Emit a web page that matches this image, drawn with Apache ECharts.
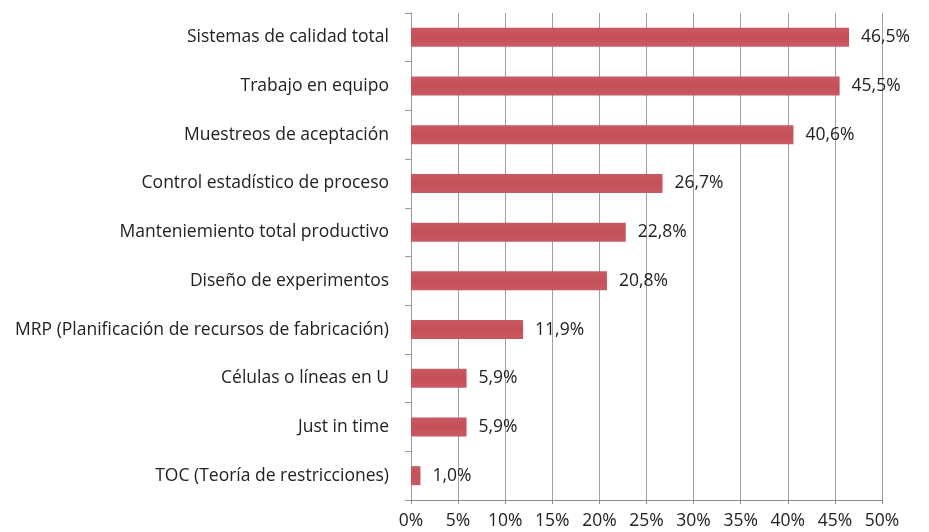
<!DOCTYPE html>
<html><head><meta charset="utf-8">
<script src="https://cdn.jsdelivr.net/npm/echarts@6/dist/echarts.min.js"></script>
<style>html,body{margin:0;padding:0;background:#fff}#c{width:929px;height:532px}</style>
</head><body><div id="c"></div>
<script>
const categories = [
  "Sistemas de calidad total",
  "Trabajo en equipo",
  "Muestreos de aceptación",
  "Control estadístico de proceso",
  "Manteniemiento total productivo",
  "Diseño de experimentos",
  "MRP (Planificación de recursos de fabricación)",
  "Células o líneas en U",
  "Just in time",
  "TOC (Teoría de restricciones)"
];
const values = [46.5, 45.5, 40.6, 26.7, 22.8, 20.8, 11.9, 5.9, 5.9, 1.0];
const xTicks = [0, 5, 10, 15, 20, 25, 30, 35, 40, 45, 50];

const chart = echarts.init(document.getElementById('c'));
const font = '"Open Sans", "Noto Sans", sans-serif';
chart.setOption({
  animation: false,
  grid: {left: 411, right: 47, top: 13, bottom: 32, containLabel: false},
  xAxis: {
    type: 'value', min: xTicks[0], max: xTicks[xTicks.length - 1], interval: 5,
    axisLine: {show: true, lineStyle: {color: '#8c8c8c', width: 1}},
    axisTick: {show: true, length: 4, lineStyle: {color: '#8c8c8c'}},
    splitLine: {show: true, lineStyle: {color: '#a0a0a0', width: 1}},
    axisLabel: {formatter: '{value}%', color: '#222', fontSize: 17.5, fontFamily: font, margin: 12}
  },
  yAxis: {
    type: 'category', data: categories, inverse: true,
    axisLine: {show: true, lineStyle: {color: '#9a9a9a'}},
    axisTick: {show: true, length: 6, lineStyle: {color: '#9a9a9a'}},
    axisLabel: {color: '#222', fontSize: 17.5, fontFamily: font, margin: 22}
  },
  series: [{
    type: 'bar', data: values, barWidth: 19,
    itemStyle: {
      color: new echarts.graphic.LinearGradient(0, 0, 0, 1, [
        {offset: 0, color: '#c85a64'},
        {offset: 0.5, color: '#c54f57'},
        {offset: 1, color: '#c95a65'}
      ])
    },
    label: {
      show: true, position: 'right', distance: 12, color: '#222', fontSize: 17.5, fontFamily: font,
      formatter: p => p.value.toFixed(1).replace('.', ',') + '%'
    }
  }]
});
</script></body></html>
